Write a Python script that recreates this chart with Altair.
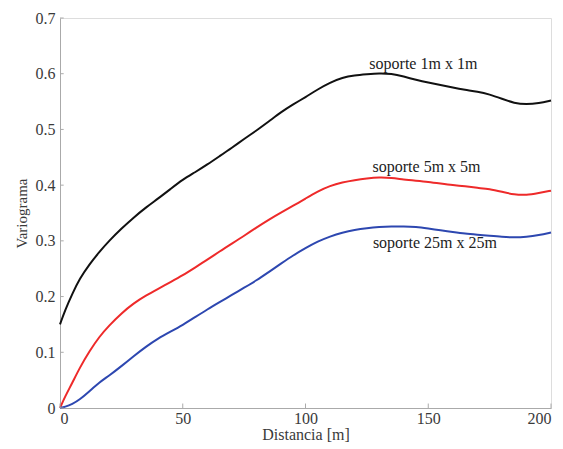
import altair as alt
import pandas as pd

dist = [0, 2, 5, 8, 12, 16, 20, 25, 30, 35, 40, 45, 50, 55, 60, 65, 70, 75, 80, 85, 90, 95,
        100, 105, 110, 115, 120, 125, 130, 135, 140, 145, 150, 155, 160, 165, 170, 175, 180, 185, 190, 195, 200]
black = [0.15, 0.175, 0.205, 0.232, 0.258, 0.28, 0.30, 0.322, 0.342, 0.36, 0.376, 0.393, 0.41, 0.423, 0.437,
         0.452, 0.467, 0.483, 0.498, 0.514, 0.531, 0.545, 0.558, 0.572, 0.584, 0.593, 0.597, 0.599, 0.601,
         0.600, 0.595, 0.589, 0.584, 0.580, 0.575, 0.571, 0.568, 0.563, 0.555, 0.547, 0.545, 0.547, 0.552]
red = [0.0, 0.02, 0.045, 0.072, 0.102, 0.128, 0.148, 0.17, 0.188, 0.202, 0.214, 0.226, 0.238, 0.252, 0.266,
       0.281, 0.295, 0.309, 0.324, 0.338, 0.351, 0.363, 0.376, 0.389, 0.399, 0.405, 0.409, 0.412, 0.414,
       0.413, 0.410, 0.408, 0.406, 0.403, 0.400, 0.398, 0.395, 0.393, 0.388, 0.383, 0.382, 0.386, 0.390]
blue = [0.0, 0.002, 0.007, 0.015, 0.03, 0.046, 0.058, 0.075, 0.093, 0.11, 0.125, 0.137, 0.149, 0.163, 0.177,
        0.19, 0.203, 0.216, 0.229, 0.244, 0.259, 0.274, 0.287, 0.299, 0.308, 0.315, 0.32, 0.323, 0.325,
        0.326, 0.326, 0.325, 0.322, 0.319, 0.316, 0.313, 0.311, 0.309, 0.307, 0.306, 0.307, 0.310, 0.315]

series_names = ["soporte 1m x 1m", "soporte 5m x 5m", "soporte 25m x 25m"]
series_colors = ["#111111", "#ee2a2a", "#2d47b0"]
label_x = [148, 149.3, 152.7]
label_y = [0.618, 0.432, 0.296]

x_ticks = [0, 50, 100, 150, 200]
y_ticks = [0, 0.1, 0.2, 0.3, 0.4, 0.5, 0.6, 0.7]

rows = []
for name, vals in zip(series_names, [black, red, blue]):
    for d, v in zip(dist, vals):
        rows.append({"d": d, "v": v, "s": name})
df = pd.DataFrame(rows)
lab = pd.DataFrame({"x": label_x, "y": label_y, "t": series_names})

font = "Liberation Serif, Times New Roman, serif"
xs = alt.Scale(domain=[0, 200], nice=False, zero=False)
ys = alt.Scale(domain=[0, 0.7], nice=False, zero=False)
cs = alt.Scale(domain=series_names, range=series_colors)

lines = alt.Chart(df).mark_line(strokeWidth=2, interpolate="basis").encode(
    x=alt.X("d:Q", scale=xs, title="Distancia [m]",
            axis=alt.Axis(values=x_ticks, grid=False, ticks=False, domainColor="#aaaaaa",
                          format="d",
                          labelFont=font, labelFontSize=16, labelColor="#3a3a3a",
                          titleFont=font, titleFontSize=16, titleFontWeight="normal",
                          titleColor="#3a3a3a", labelPadding=2, titlePadding=0)),
    y=alt.Y("v:Q", scale=ys, title="Variograma",
            axis=alt.Axis(values=y_ticks, grid=False, ticks=False, domainColor="#aaaaaa",
                          format="~g",
                          labelFont=font, labelFontSize=16, labelColor="#3a3a3a",
                          titleFont=font, titleFontSize=15, titleFontWeight="normal",
                          titleColor="#3a3a3a", labelPadding=5, titlePadding=6)),
    color=alt.Color("s:N", scale=cs, legend=None),
    detail="s:N",
)

xt = alt.Chart(pd.DataFrame({"x": x_ticks})).mark_rule(color="#aaaaaa").encode(
    x=alt.X("x:Q", scale=xs), y=alt.datum(0, scale=ys), y2=alt.datum(0.008))
yt = alt.Chart(pd.DataFrame({"y": y_ticks})).mark_rule(color="#aaaaaa").encode(
    y=alt.Y("y:Q", scale=ys), x=alt.datum(0, scale=xs), x2=alt.datum(1.5))

texts = alt.Chart(lab).mark_text(font=font, fontSize=16, color="#222222").encode(
    x=alt.X("x:Q", scale=xs), y=alt.Y("y:Q", scale=ys), text="t:N")

chart = alt.layer(lines, xt, yt, texts).properties(
    width=491, height=390,
    autosize=alt.AutoSizeParams(type="none"),
    padding={"left": 52, "top": 10, "right": 4, "bottom": 41},
).configure_view(stroke=None).configure(background="white")

chart.save("out.html", embed_options={"renderer": "svg", "actions": False})
